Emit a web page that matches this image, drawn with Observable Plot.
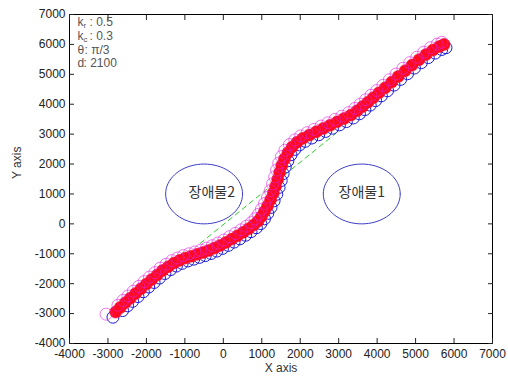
<!DOCTYPE html>
<html><head><meta charset="utf-8">
<script src="https://cdn.jsdelivr.net/npm/d3@7"></script>
<script src="https://cdn.jsdelivr.net/npm/@observablehq/plot@0.6"></script>
<style>body{margin:0;background:#fff}</style>
</head><body><div id="chart"></div>
<script>
const xTicks = [-4000,-3000,-2000,-1000,0,1000,2000,3000,4000,5000,6000,7000];
const yTicks = [-4000,-3000,-2000,-1000,0,1000,2000,3000,4000,5000,6000,7000];

const redPath = [[-2800,-2950],[-2680,-2800],[-2550,-2640],[-2420,-2490],[-2280,-2330],[-2140,-2170],[-2000,-2010],[-1860,-1860],[-1720,-1710],[-1580,-1560],[-1430,-1430],[-1280,-1310],[-1130,-1220],[-980,-1140],[-830,-1080],[-680,-1020],[-530,-960],[-380,-890],[-230,-810],[-80,-720],[70,-620],[220,-510],[370,-400],[520,-280],[660,-160],[790,-40],[900,90],[990,240],[1070,410],[1150,600],[1230,810],[1300,1030],[1360,1260],[1415,1490],[1465,1720],[1520,1950],[1590,2170],[1680,2380],[1790,2570],[1920,2730],[2070,2860],[2240,2970],[2420,3080],[2600,3190],[2780,3300],[2960,3410],[3140,3520],[3320,3640],[3480,3780],[3620,3920],[3760,4070],[3900,4220],[4050,4380],[4210,4550],[4380,4740],[4550,4930],[4730,5120],[4910,5310],[5090,5490],[5270,5660],[5450,5810],[5620,5930],[5740,6000]];

const bluePath = [[-2870,-3120],[-2620,-2900],[-2490,-2740],[-2360,-2590],[-2220,-2430],[-2080,-2270],[-1940,-2110],[-1800,-1960],[-1660,-1810],[-1520,-1660],[-1370,-1530],[-1220,-1410],[-1070,-1320],[-920,-1240],[-770,-1180],[-620,-1120],[-470,-1060],[-320,-990],[-170,-910],[-20,-820],[130,-720],[280,-610],[430,-500],[580,-380],[720,-260],[860,-130],[975,10],[1070,170],[1155,350],[1240,550],[1320,770],[1390,990],[1450,1220],[1505,1450],[1555,1680],[1610,1900],[1680,2110],[1760,2310],[1860,2490],[1980,2640],[2130,2760],[2300,2870],[2480,2980],[2660,3090],[2840,3200],[3020,3310],[3200,3420],[3380,3540],[3540,3680],[3680,3820],[3820,3970],[3960,4120],[4110,4280],[4270,4450],[4440,4640],[4610,4830],[4790,5020],[4970,5210],[5150,5390],[5330,5560],[5510,5710],[5680,5830],[5790,5890]];

const magentaPath = [[-3050,-3020],[-2740,-2720],[-2610,-2560],[-2480,-2410],[-2340,-2250],[-2200,-2090],[-2060,-1930],[-1920,-1780],[-1780,-1630],[-1640,-1480],[-1490,-1350],[-1340,-1230],[-1190,-1140],[-1040,-1060],[-890,-1000],[-740,-940],[-590,-880],[-440,-810],[-290,-730],[-140,-640],[10,-540],[160,-430],[310,-320],[460,-200],[600,-80],[725,40],[825,170],[910,320],[990,490],[1070,680],[1150,890],[1220,1110],[1280,1340],[1335,1570],[1385,1800],[1440,2030],[1510,2250],[1600,2460],[1720,2650],[1860,2810],[2010,2940],[2180,3050],[2360,3160],[2540,3270],[2720,3380],[2900,3490],[3080,3600],[3260,3720],[3420,3860],[3560,4000],[3700,4150],[3840,4300],[3990,4460],[4150,4630],[4320,4820],[4490,5010],[4670,5200],[4850,5390],[5030,5570],[5210,5740],[5390,5890],[5560,6010],[5680,6070]];

const guideLine = [[-600,-650],[2920,3020]];

const obstacleNames = ["장애물2","장애물1"];
const obstacleCX = [-500, 3600];
const obstacleCY = [1000, 1000];
const obstacleR = [1000, 1000];
const labelX = [-300, 3600];
const labelY = [1050, 1050];

const paramSymbols = ["k", "k", "θ", "d"];
const paramValues = [": 0.5", ": 0.3", ": π/3", ": 2100"];
const paramSubs = ["r", "c"];

const outline = [];
obstacleNames.forEach((n, i) => {
  for (let a = 0; a <= 72; a++) {
    const t = a / 72 * 2 * Math.PI;
    outline.push({name: n, x: obstacleCX[i] + obstacleR[i] * Math.cos(t), y: obstacleCY[i] + obstacleR[i] * Math.sin(t)});
  }
});
const labels = obstacleNames.map((n, i) => ({name: n, x: labelX[i], y: labelY[i]}));

const lineDy = [3, 17, 30.5, 44];
const valueDx = [20, 20, 15, 14];
const paramMarks = [];
paramSymbols.forEach((s, i) => {
  paramMarks.push(Plot.text([s], {frameAnchor: "top-left", dx: 8, dy: lineDy[i], fontSize: 12, fill: "#555", lineAnchor: "top", textAnchor: "start"}));
  paramMarks.push(Plot.text([paramValues[i]], {frameAnchor: "top-left", dx: valueDx[i], dy: lineDy[i], fontSize: 12, fill: "#555", lineAnchor: "top", textAnchor: "start"}));
});
paramSubs.forEach((s, i) => {
  paramMarks.push(Plot.text([s], {frameAnchor: "top-left", dx: 14, dy: lineDy[i] + 4.5, fontSize: 8, fill: "#555", lineAnchor: "top", textAnchor: "start"}));
});

const chart = Plot.plot({
  width: 508, height: 381,
  marginLeft: 69, marginRight: 16, marginTop: 14, marginBottom: 38,
  style: {fontFamily: "Liberation Sans, Arial, sans-serif", fontSize: "12px", color: "#222", background: "#fff"},
  x: {domain: [-4000, 7000]},
  y: {domain: [-4000, 7000]},
  marks: [
    Plot.line(outline, {x: "x", y: "y", z: "name", stroke: "#3c3cc8", strokeWidth: 1}),
    Plot.text(labels, {x: "x", y: "y", text: "name", fontSize: 14, fill: "#333", fontFamily: "Noto Sans CJK KR"}),
    Plot.line(guideLine, {x: d => d[0], y: d => d[1], stroke: "#33cc33", strokeWidth: 1, strokeDasharray: "5,4"}),
    Plot.dot(bluePath, {x: d => d[0], y: d => d[1], r: 6, fill: "none", stroke: "#1c1cd8", strokeWidth: 1}),
    Plot.dot(redPath, {x: d => d[0], y: d => d[1], r: 6, fill: "#ff0a1e", stroke: "#f01040", strokeWidth: 0.6}),
    Plot.dot(magentaPath, {x: d => d[0], y: d => d[1], r: 6, fill: "none", stroke: "#e020e0", strokeWidth: 0.8, strokeOpacity: 0.75}),
    Plot.frame({stroke: "#000", strokeWidth: 1}),
    Plot.axisX(xTicks, {anchor: "bottom", tickSize: 0, tickPadding: 6, label: null, tickFormat: d => String(d), fill: "#222"}),
    Plot.axisX(xTicks, {anchor: "bottom", tickSize: 5, dy: -5, text: null, label: null}),
    Plot.axisX(xTicks, {anchor: "top", tickSize: 5, dy: 5, text: null, label: null}),
    Plot.axisY(yTicks, {anchor: "left", tickSize: 0, tickPadding: 4, label: null, tickFormat: d => String(d), fill: "#222"}),
    Plot.axisY(yTicks, {anchor: "left", tickSize: 5, dx: 5, text: null, label: null}),
    Plot.axisY(yTicks, {anchor: "right", tickSize: 5, dx: -5, text: null, label: null}),
    Plot.text(["X axis"], {frameAnchor: "bottom", dy: 28, fontSize: 12, fill: "#333"}),
    Plot.text(["Y axis"], {frameAnchor: "left", dx: -52, rotate: -90, fontSize: 12, fill: "#333"}),
    ...paramMarks
  ]
});
document.getElementById("chart").appendChild(chart);
</script>
</body></html>
